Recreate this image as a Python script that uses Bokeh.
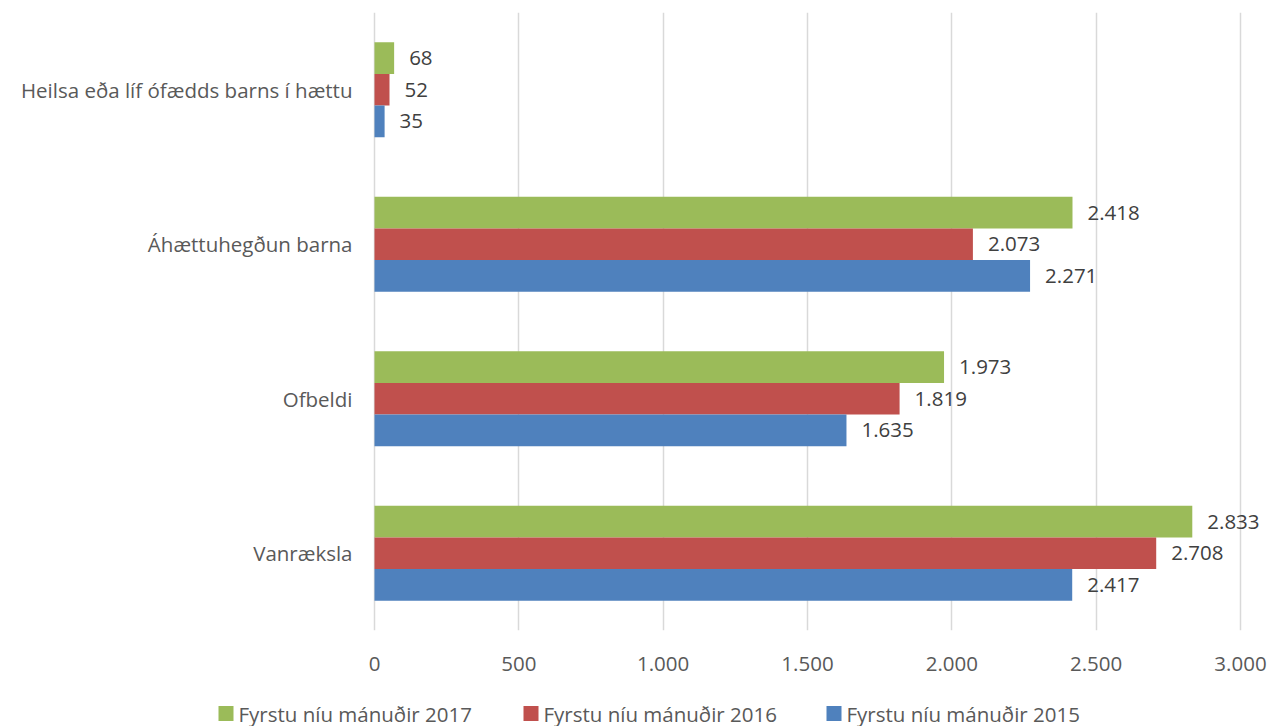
from bokeh.plotting import figure
from bokeh.models import ColumnDataSource, FactorRange, Range1d, FixedTicker
from bokeh.layouts import column
from bokeh.transform import dodge
from bokeh.core.properties import value
from bokeh.embed import file_html
from bokeh.resources import INLINE

categories = ["Vanræksla", "Ofbeldi", "Áhættuhegðun barna", "Heilsa eða líf ófædds barns í hættu"]
series_names = ["Fyrstu níu mánuðir 2017", "Fyrstu níu mánuðir 2016", "Fyrstu níu mánuðir 2015"]
v2017 = [2833, 1973, 2418, 68]
v2016 = [2708, 1819, 2073, 52]
v2015 = [2417, 1635, 2271, 35]
colors = ["#9BBB59", "#C0504D", "#4F81BD"]
ticks = [0, 500, 1000, 1500, 2000, 2500, 3000]

def fmt(v):
    return f"{v:,}".replace(",", ".")

FONT = "Open Sans"
FS = "20.5px"
W = 1268
PX_PER_UNIT = 866 / 3000.0   # 0..3000 spans 866 px
ZERO_X = 374                 # pixel position of value 0

p = figure(width=W, height=696, output_backend="svg", toolbar_location=None,
           y_range=FactorRange(*categories, range_padding=0),
           x_range=Range1d(-ZERO_X / PX_PER_UNIT, (W - ZERO_X) / PX_PER_UNIT),
           y_axis_location=None)
p.min_border_left = 0
p.min_border_right = 0
p.min_border_top = 12
p.min_border_bottom = 66
p.outline_line_color = None

src = ColumnDataSource(dict(cat=categories, zero=[0] * len(categories),
                            v2017=v2017, v2016=v2016, v2015=v2015,
                            l2017=[fmt(v) for v in v2017],
                            l2016=[fmt(v) for v in v2016],
                            l2015=[fmt(v) for v in v2015]))

offsets = [0.205, 0.0, -0.205]
keys = ["2017", "2016", "2015"]
for k, off, col in zip(keys, offsets, colors):
    p.hbar(y=dodge("cat", off, range=p.y_range), right="v" + k, left=0, height=0.205,
           source=src, fill_color=col, line_color=None)
    p.text(x="v" + k, y=dodge("cat", off, range=p.y_range), text="l" + k, source=src,
           x_offset=15, text_baseline="middle", text_align="left",
           text_font=value(FONT), text_font_size=FS, text_color="#404040")

# category labels (y axis)
p.text(x="zero", y="cat", text="cat", source=src, x_offset=-22,
       text_baseline="middle", text_align="right",
       text_font=value(FONT), text_font_size=FS, text_color="#595959")

p.xaxis.ticker = FixedTicker(ticks=ticks)
p.xaxis.major_label_overrides = {t: fmt(t) for t in ticks}
p.xaxis.axis_line_color = None
p.xaxis.major_tick_line_color = None
p.xaxis.minor_tick_line_color = None
p.xaxis.major_label_standoff = 20
p.xaxis.major_label_text_font = FONT
p.xaxis.major_label_text_font_size = FS
p.xaxis.major_label_text_color = "#595959"

p.ygrid.grid_line_color = None
p.xgrid.grid_line_color = "#D9D9D9"
p.xgrid.grid_line_width = 1.5

# legend strip (pixel coordinates)
LH = 30
lg = figure(width=W, height=LH, output_backend="svg", toolbar_location=None,
            x_range=Range1d(0, W), y_range=Range1d(0, LH),
            x_axis_location=None, y_axis_location=None)
lg.min_border = 0
lg.outline_line_color = None
lg.xgrid.grid_line_color = None
lg.ygrid.grid_line_color = None
legend_x = [218, 523, 826]
legend_y = 13
lsrc = ColumnDataSource(dict(
    gx=[x + 7.5 for x in legend_x], tx=[x + 20 for x in legend_x],
    y=[legend_y] * 3, name=series_names, color=colors))
lg.rect(x="gx", y="y", width=15, height=15, width_units="screen", height_units="screen",
        fill_color="color", line_color=None, source=lsrc)
lg.text(x="tx", y="y", text="name", source=lsrc, text_baseline="middle", text_align="left",
        text_font=value(FONT), text_font_size=FS, text_color="#595959")

layout = column(p, lg, spacing=0)
open("out.html", "w").write(file_html(layout, INLINE))
